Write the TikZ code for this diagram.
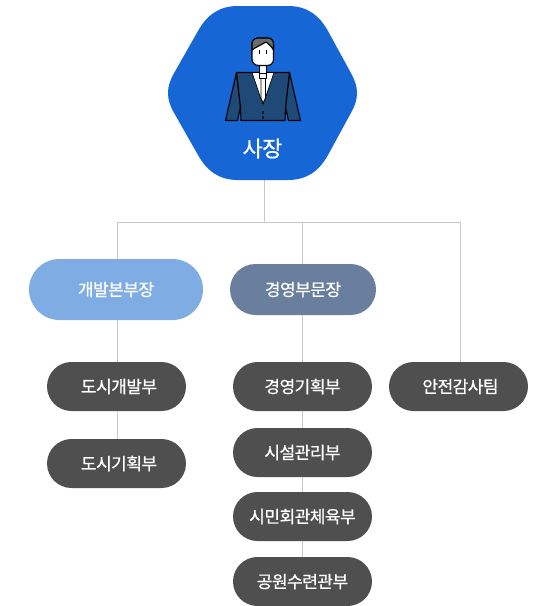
\documentclass[tikz,border=0pt]{standalone}
\usepackage{fontspec}
\setmainfont{Noto Sans CJK KR}[FakeBold=0.7,LetterSpace=-3]
\usetikzlibrary{shapes.misc}
\definecolor{hexblue}{HTML}{1766D6}
\definecolor{lightblue}{HTML}{7FADE3}
\definecolor{slateblue}{HTML}{6A7F9E}
\definecolor{darkpill}{HTML}{4F4F4F}
\definecolor{linegray}{HTML}{C8C8C8}
\definecolor{suit}{HTML}{1F4A78}
\definecolor{hair}{HTML}{6B6B6B}
\newcommand\lbl[1]{\raisebox{-1.5pt}{#1}}
\tikzset{
  conn/.style={draw=linegray,line width=0.9pt},
  pill/.style={rounded rectangle,rounded rectangle arc length=180,inner sep=0pt,font=\fontsize{17}{17}\selectfont,text=white},
  deptbox/.style={pill,fill=darkpill,minimum width=139pt,minimum height=49pt},
  fig/.style={draw=black,line width=1.1pt,line join=round},
}
\begin{document}
\begin{tikzpicture}[x=1pt,y=-1pt]
\useasboundingbox (0,0) rectangle (538,606);
\coordinate (junction) at (264.5,222);
\coordinate (jleft) at (117.5,222);
\coordinate (jmid) at (302.5,222);
\coordinate (jright) at (460.5,222);
\node[pill,fill=lightblue,minimum width=174pt,minimum height=61pt] (dev) at (116,289.5) {\lbl{개발본부장}};
\node[pill,fill=slateblue,minimum width=146pt,minimum height=51pt] (mgmt) at (303,289.5) {\lbl{경영부문장}};
\node[deptbox] (d1) at (116.5,386.5) {\hspace{5pt}\lbl{도시개발부}};
\node[deptbox] (d2) at (116.5,463.5) {\hspace{5pt}\lbl{도시기획부}};
\node[deptbox] (m1) at (302.5,386.5) {\lbl{경영기획부}};
\node[deptbox] (m2) at (302.5,452.5) {\lbl{시설관리부}};
\node[deptbox] (m3) at (302.5,516.5) {\lbl{시민회관체육부}};
\node[deptbox] (m4) at (302.5,581.5) {\lbl{공원수련관부}};
\node[deptbox] (audit) at (458.5,386.5) {\hspace{4pt}\lbl{안전감사팀}};
\coordinate (ceoBottom) at (264.5,180);
\draw[conn] (ceoBottom) -- (junction);
\draw[conn] (jleft) -- (jright);
\draw[conn] (jleft) -- (jleft |- dev.north);
\draw[conn] (jmid) -- (jmid |- mgmt.north);
\draw[conn] (jright) -- (jright |- audit.north);
\draw[conn] (jleft |- dev.south) -- (jleft |- d1.north);
\draw[conn] (jleft |- d1.south) -- (jleft |- d2.north);
\draw[conn] (jmid |- mgmt.south) -- (jmid |- m1.north);
\draw[conn] (jmid |- m1.south) -- (jmid |- m2.north);
\draw[conn] (jmid |- m2.south) -- (jmid |- m3.north);
\draw[conn] (jmid |- m3.south) -- (jmid |- m4.north);
% hexagon
\fill[hexblue] (168,93) .. controls (168,86) and (170,81) .. (173,75)
  -- (198,31) .. controls (207,15) and (219,6) .. (238,6)
  -- (288,6) .. controls (307,6) and (319,15) .. (328,31)
  -- (352,75) .. controls (355,81) and (357,86) .. (357,93)
  .. controls (357,100) and (355,105) .. (352,111)
  -- (328,155) .. controls (319,171) and (307,180) .. (288,180)
  -- (238,180) .. controls (219,180) and (207,171) .. (198,155)
  -- (173,111) .. controls (170,105) and (168,100) .. (168,93) -- cycle;
\node[font=\fontsize{22}{22}\selectfont,text=white,inner sep=0pt] (ceo) at (262.5,148.5) {사장};
% figure: sleeves, body
\draw[fig,fill=suit] (236.5,72.5) -- (225.5,120.5) -- (237.5,120.5) -- (240.5,107) -- cycle;
\draw[fig,fill=suit] (289.5,72.5) -- (300.5,120.5) -- (288.5,120.5) -- (285.5,107) -- cycle;
\draw[fig,fill=suit] (236.5,72.5) -- (289.5,72.5) -- (285.5,107) -- (285,120.5) -- (241,120.5) -- (240.5,107) -- cycle;
\draw[fig,fill=white,line width=0.7pt] (252,72.5) -- (274,72.5) -- (263,105) -- cycle;
\draw[fig,fill=white,line width=0.7pt] (261,78) -- (265.5,78) -- (265.5,98) -- (263,103) -- (261,98) -- cycle;
\draw[fig,fill=white,line width=0.9pt] (259.5,64) rectangle (266.5,78);
\draw[fig,fill=white,line width=0.9pt] (259.5,73) -- (266.5,73);
\draw[fig,fill=white] (252,44) .. controls (252,40) and (255,38) .. (259,38) -- (267,38) .. controls (271,38) and (273.5,40) .. (273.5,44) -- (273.5,59) .. controls (273.5,63) and (271,65.5) .. (267,65.5) -- (259,65.5) .. controls (255,65.5) and (252,63) .. (252,59) -- cycle;
\draw[fig,fill=hair] (252,50) -- (252,44) .. controls (252,40) and (255,38) .. (259,38) -- (267,38) .. controls (271,38) and (273.5,40) .. (273.5,44) -- (273.5,50) .. controls (271,46) and (269,44) .. (266,42) .. controls (261,45) and (256,47) .. (252,50) -- cycle;
\fill (259.4,50) rectangle (260.4,54);
\fill (265.6,50) rectangle (266.6,54);
\fill[black!60!suit] (262.3,111) rectangle (263.7,114);
\fill[black!60!suit] (262.3,116) rectangle (263.7,119);
\end{tikzpicture}
\end{document}
